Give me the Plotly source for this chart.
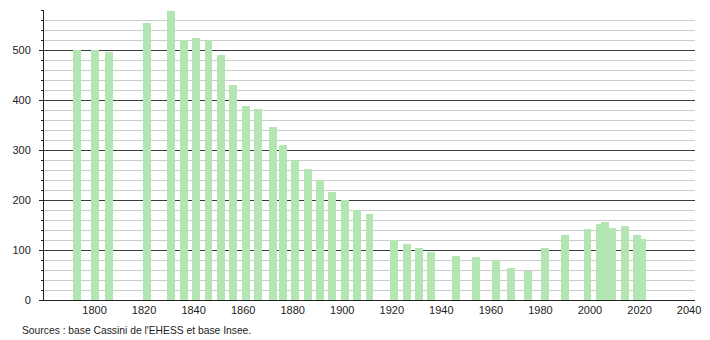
import plotly.graph_objects as go

years = [1793, 1800, 1806, 1821, 1831, 1836, 1841, 1846, 1851, 1856, 1861, 1866,
         1872, 1876, 1881, 1886, 1891, 1896, 1901, 1906, 1911, 1921, 1926, 1931,
         1936, 1946, 1954, 1962, 1968, 1975, 1982, 1990, 1999, 2004, 2006, 2009,
         2014, 2019, 2021]
population = [500, 500, 497, 555, 579, 521, 524, 521, 490, 430, 388, 382,
              346, 310, 280, 262, 240, 217, 201, 180, 172, 120, 113, 105,
              96, 89, 86, 80, 65, 59, 105, 130, 143, 153, 157, 144,
              148, 130, 123]
x_ticks = [1800, 1820, 1840, 1860, 1880, 1900, 1920, 1940, 1960, 1980, 2000, 2020, 2040]
y_ticks = [0, 100, 200, 300, 400, 500]
source_text = "Sources : base Cassini de l'EHESS et base Insee."

fig = go.Figure()
fig.add_trace(go.Bar(
    x=years, y=population, width=3.2,
    marker=dict(color="#b3e6b3", line=dict(width=0)),
    hoverinfo="x+y",
))

fig.update_layout(
    width=710, height=340,
    margin=dict(l=44, r=9, t=10, b=40),
    paper_bgcolor="white", plot_bgcolor="white",
    font=dict(family="Liberation Sans, Arial, sans-serif", size=11, color="#222"),
    showlegend=False,
    bargap=0,
    xaxis=dict(
        range=[1779.6, 2042.4],
        tickvals=x_ticks,
        showgrid=False, zeroline=False,
        showline=True, linecolor="#222", linewidth=1,
        ticks="", ticklen=0,
        tickfont=dict(size=11, color="#222"),
        fixedrange=True,
    ),
    yaxis=dict(
        range=[0, 580],
        tickvals=y_ticks,
        showgrid=True, gridcolor="#3a3a3a", gridwidth=1,
        zeroline=False,
        showline=True, linecolor="#222", linewidth=1,
        ticks="outside", ticklen=4, tickcolor="#222",
        ticklabelstandoff=6,
        tickfont=dict(size=11, color="#222"),
        minor=dict(dtick=20, tick0=0, showgrid=True, gridcolor="#cccccc", gridwidth=1,
                   ticks="outside", ticklen=2, tickcolor="#222"),
        fixedrange=True,
    ),
    annotations=[dict(
        text=source_text, xref="paper", yref="paper",
        x=(20 - 44) / 657, y=-30 / 290, xanchor="left", yanchor="middle",
        showarrow=False, font=dict(size=10.3, color="#222"),
    )],
)

fig.write_html("out.html")
